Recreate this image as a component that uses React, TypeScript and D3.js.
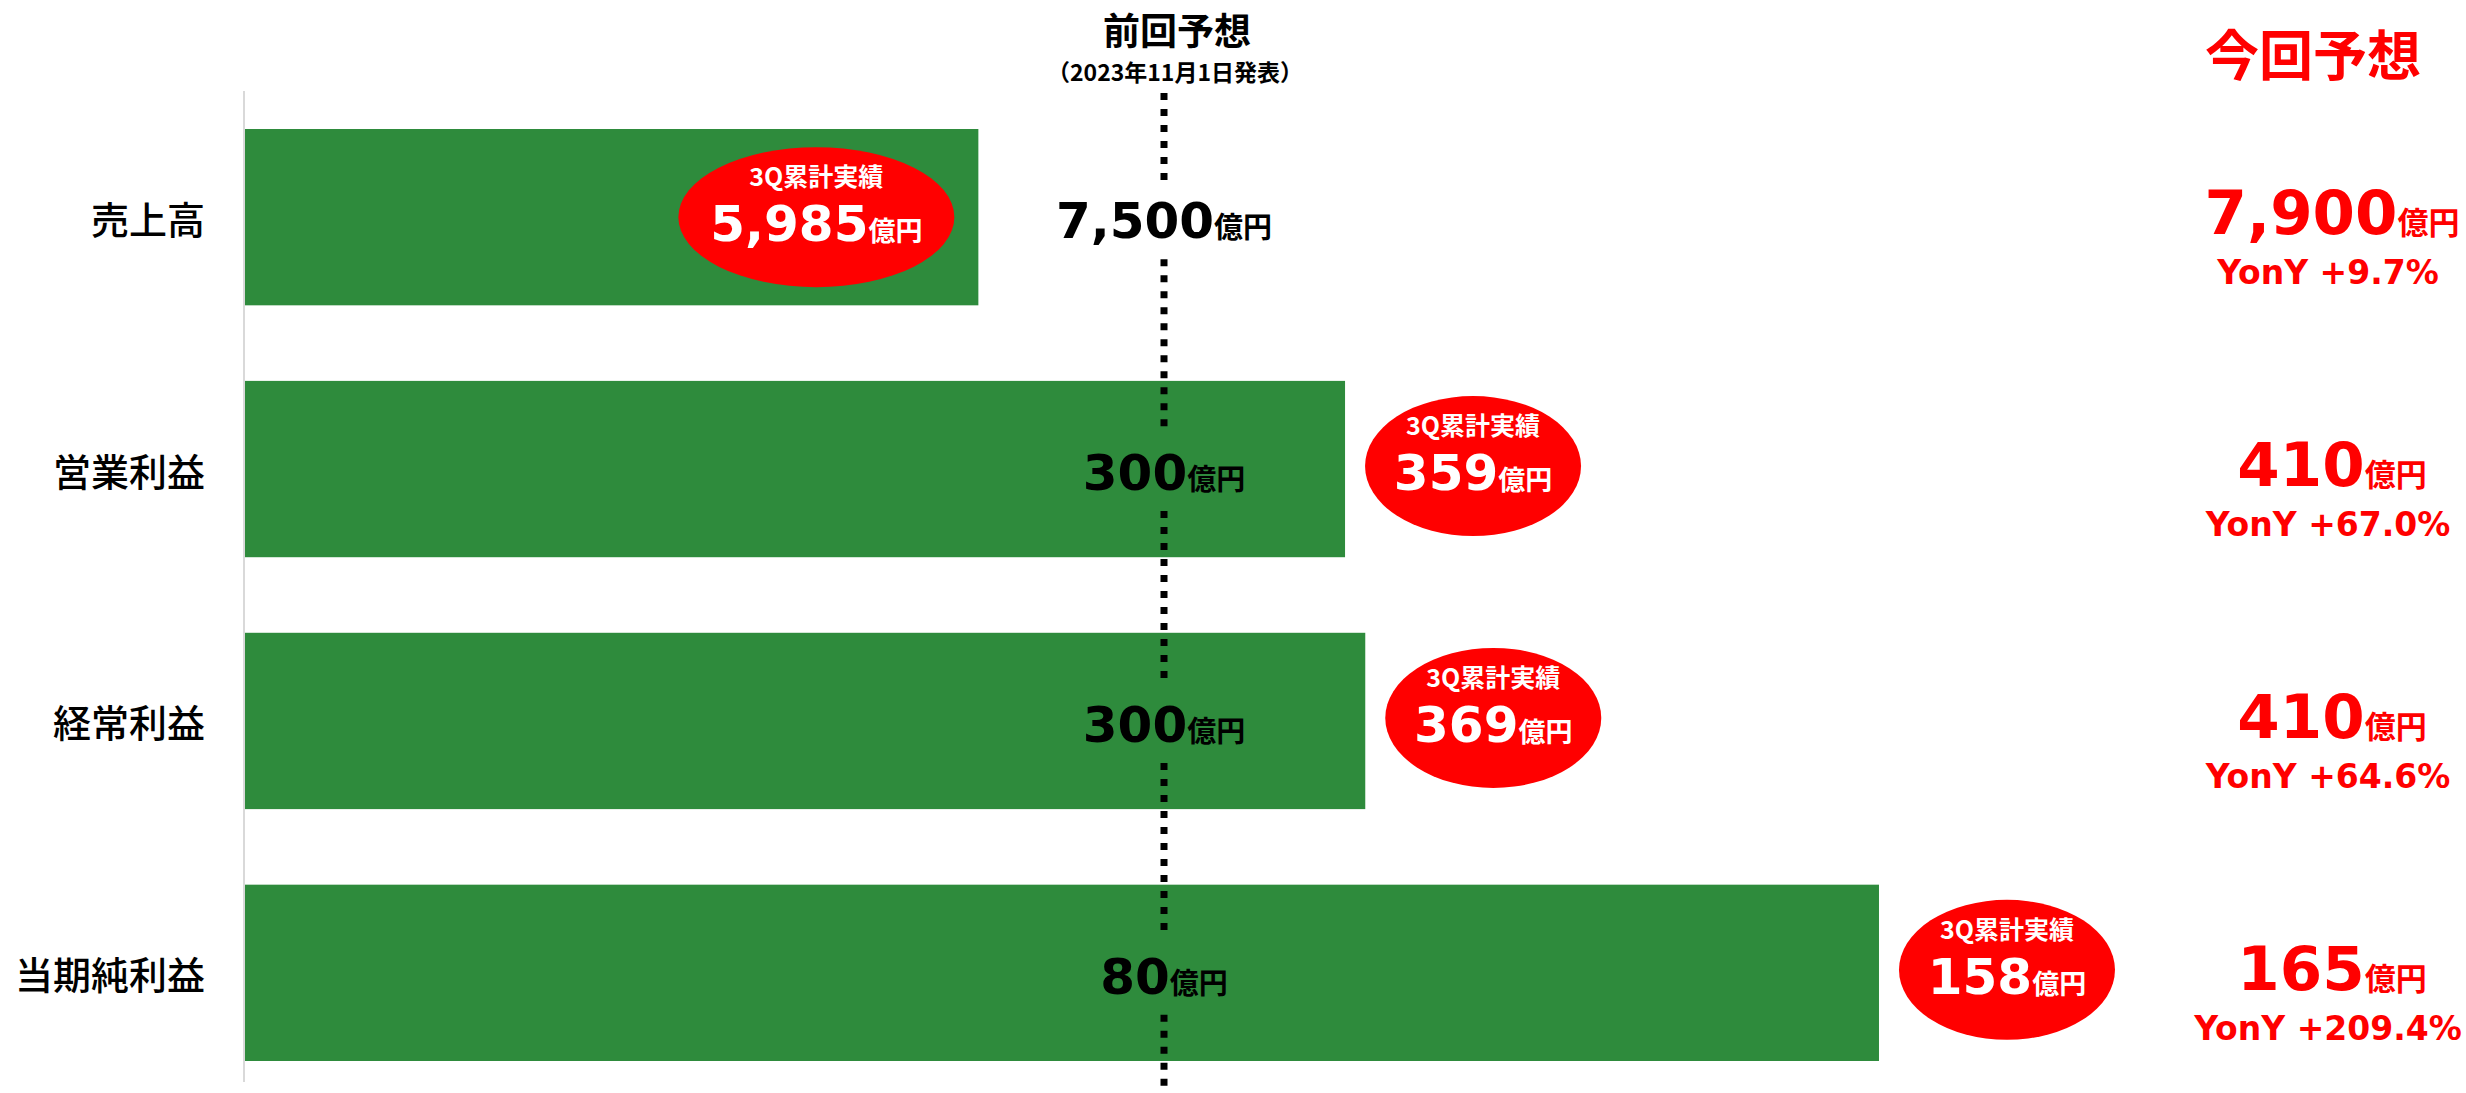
import React from 'react';
import * as d3 from 'd3';

// categories and values (億円)
const categories = ['売上高', '営業利益', '経常利益', '当期純利益'];
const previousForecast = [7500, 300, 300, 80];
const actual3Q = [5985, 359, 369, 158];
const currentForecast = [7900, 410, 410, 165];
const yoyLabels = ['+9.7%', '+67.0%', '+64.6%', '+209.4%'];
// bar length as % of previous forecast (as drawn in the chart)
const barIndex = [79.8, 119.7, 121.9, 177.8];

const W = 2466;
const H = 1093;
const GREEN = '#2e8b3c';
const RED = '#ff0000';
const LATIN = '"DejaVu Sans", "Noto Sans CJK JP", sans-serif';
const JP = '"Noto Sans CJK JP", sans-serif';

const fmt = d3.format(',');

const App: React.FC = () => {
    const x = d3.scaleLinear().domain([0, 100]).range([245, 1164]);
    const y = d3.scaleBand<string>()
        .domain(categories)
        .range([129, 1061])
        .paddingInner(0.3)
        .paddingOuter(0);

    const lineX = x(100);
    const lineTop = 93;
    const mid = (c: string) => (y(c) || 0) + y.bandwidth() / 2;

    // dotted line segments, broken around the previous-forecast labels
    const segments: [number, number][] = [];
    let start = lineTop;
    categories.forEach(c => {
        const base = mid(c) + 21;
        segments.push([start, base - 55]);
        start = base + 21;
    });
    segments.push([start, H]);

    return (
        <svg width={W} height={H} style={{ position: 'absolute', left: 0, top: 0, background: '#fff' }}>
            {/* axis line */}
            <line x1={244} x2={244} y1={91} y2={1082} stroke="#d9d9d9" strokeWidth={2} />

            {/* bars */}
            {categories.map((c, i) => (
                <rect key={c} x={x(0)} y={y(c)} width={x(barIndex[i]) - x(0)} height={y.bandwidth()} fill={GREEN} />
            ))}

            {/* category labels */}
            {categories.map(c => (
                <text key={c} x={205} y={mid(c)} textAnchor="end" dominantBaseline="central"
                    fontFamily={JP} fontWeight={500} fontSize={38} fill="#000">{c}</text>
            ))}

            {/* previous forecast line */}
            {segments.map(([a, b], i) => (
                <line key={i} x1={lineX} x2={lineX} y1={a} y2={b} stroke="#000" strokeWidth={7} strokeDasharray="7 9" />
            ))}
            <text x={1177} y={45} textAnchor="middle" fontFamily={JP} fontWeight="bold" fontSize={37}>前回予想</text>
            <text x={1175} y={81} textAnchor="middle" fontFamily={JP} fontWeight="bold" fontSize={23}>（2023年11月1日発表）</text>

            {/* previous forecast values */}
            {categories.map((c, i) => (
                <text key={c} x={lineX} y={mid(c) + 21} textAnchor="middle" fontFamily={LATIN} fontWeight="bold" fill="#000">
                    <tspan fontSize={50}>{fmt(previousForecast[i])}</tspan>
                    <tspan fontSize={29} fontFamily={JP}>億円</tspan>
                </text>
            ))}

            {/* 3Q actual bubbles */}
            {categories.map((c, i) => {
                const end = x(barIndex[i]);
                const inside = barIndex[i] < 100;
                const rx = inside ? 138 : 108;
                const ry = 70;
                const cx = inside ? end - 24 - rx : end + 20 + rx;
                const cy = mid(c) - (inside ? 0 : 3);
                return (
                    <g key={c}>
                        <ellipse cx={cx} cy={cy} rx={rx} ry={ry} fill={RED} />
                        <text x={cx} y={cy - 31} textAnchor="middle" fontFamily={JP} fontWeight="bold" fontSize={25} fill="#fff">3Q累計実績</text>
                        <text x={cx} y={cy + 24} textAnchor="middle" fontFamily={LATIN} fontWeight="bold" fill="#fff">
                            <tspan fontSize={50}>{fmt(actual3Q[i])}</tspan>
                            <tspan fontSize={27} fontFamily={JP}>億円</tspan>
                        </text>
                    </g>
                );
            })}

            {/* current forecast */}
            <text x={2313} y={76} textAnchor="middle" fontFamily={JP} fontWeight="bold" fontSize={54} fill={RED}>今回予想</text>
            {categories.map((c, i) => (
                <g key={c}>
                    <text x={2332} y={mid(c) + 17} textAnchor="middle" fontFamily={LATIN} fontWeight="bold" fill={RED}>
                        <tspan fontSize={61}>{fmt(currentForecast[i])}</tspan>
                        <tspan fontSize={31} fontFamily={JP}>億円</tspan>
                    </text>
                    <text x={2328} y={mid(c) + 67} textAnchor="middle" fontFamily={LATIN} fontWeight="bold" fontSize={33} fill={RED}>
                        {`YonY ${yoyLabels[i]}`}
                    </text>
                </g>
            ))}
        </svg>
    );
};

export default App;
